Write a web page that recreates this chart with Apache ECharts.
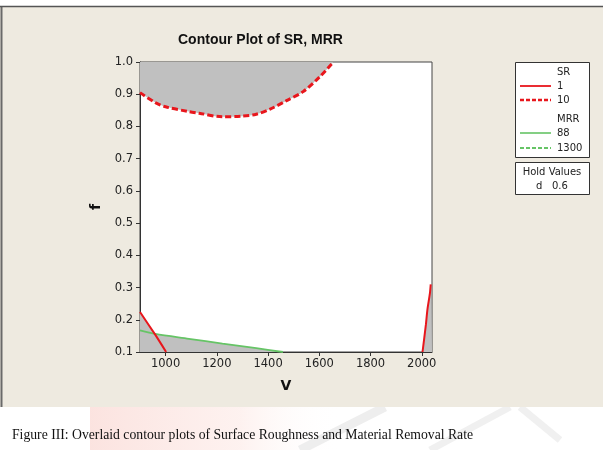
<!DOCTYPE html>
<html>
<head>
<meta charset="utf-8">
<script src="https://cdn.jsdelivr.net/npm/echarts@6/dist/echarts.min.js"></script>
<style>
  html, body { margin: 0; padding: 0; background: #fff; }
  #main { width: 607px; height: 450px; }
</style>
</head>
<body>
<div id="main"></div>
<script>
// SR = 10 contour (dashed, top) - V / f
const vSR10 = [900, 960, 1000, 1091, 1131, 1221, 1300, 1354, 1406, 1472, 1537, 1603, 1655];
const fSR10 = [0.905, 0.874, 0.861, 0.846, 0.841, 0.830, 0.832, 0.838, 0.853, 0.880, 0.908, 0.955, 1.0];

// SR = 1 contour, left piece
const vSR1a = [900, 960, 1002];
const fSR1a = [0.224, 0.153, 0.1];

// SR = 1 contour, right piece
const vSR1b = [2003, 2016, 2022, 2032, 2035];
const fSR1b = [0.1, 0.184, 0.231, 0.283, 0.31];

// MRR = 88 contour
const vMRR88 = [900, 960, 1091, 1222, 1354, 1458];
const fMRR88 = [0.167, 0.156, 0.141, 0.126, 0.112, 0.1];

// axis ticks
const vTicks = [1000, 1200, 1400, 1600, 1800, 2000];
const vMin = 900, vMax = 2040;
const fMin = 0.1, fMax = 1.0;

const RED = '#E8161C';
const GREEN = '#66C466';
const GRAY = '#C0C0C0';
const FONT = 'DejaVu Sans';

function pairs(xs, ys) {
  return xs.map((x, i) => [x, ys[i]]);
}

// linear interpolation, clamped at the ends
function interp(xs, ys, x) {
  if (x <= xs[0]) return ys[0];
  if (x >= xs[xs.length - 1]) return ys[ys.length - 1];
  for (let i = 1; i < xs.length; i++) {
    if (x <= xs[i]) {
      const t = (x - xs[i - 1]) / (xs[i] - xs[i - 1]);
      return ys[i - 1] + t * (ys[i] - ys[i - 1]);
    }
  }
}

// upper envelope of SR=1 (left) and MRR=88 -> infeasible gray region below it
function envelope() {
  const xs = Array.from(new Set(vSR1a.concat(vMRR88))).sort((a, b) => a - b);
  const out = [];
  for (let i = 0; i < xs.length; i++) {
    const x = xs[i];
    const a = interp(vSR1a, fSR1a, x), b = interp(vMRR88, fMRR88, x);
    if (i > 0) {
      const px = xs[i - 1];
      const pa = interp(vSR1a, fSR1a, px), pb = interp(vMRR88, fMRR88, px);
      if ((pa - pb) * (a - b) < 0) {
        const t = (pa - pb) / ((pa - pb) - (a - b));
        out.push([px + t * (x - px), pb + t * (b - pb)]);
      }
    }
    out.push([x, Math.max(a, b)]);
  }
  return out;
}

const chartDom = document.getElementById('main');
const myChart = echarts.init(chartDom, null, { renderer: 'canvas' });

const legendText = (x, y, text) => ({
  type: 'text', x: x, y: y,
  style: { text: text, fill: '#222', font: '10px "' + FONT + '"', verticalAlign: 'middle' }
});
const legendLine = (y, color, dashed, w) => ({
  type: 'line',
  shape: { x1: 520, y1: y, x2: 551, y2: y },
  style: { stroke: color, lineWidth: w, lineDash: dashed ? [4, 2] : null }
});

const option = {
  backgroundColor: '#fff',
  animation: false,
  title: {
    text: 'Contour Plot of SR, MRR',
    left: 173,
    top: 28,
    textStyle: { fontFamily: 'Liberation Sans', fontWeight: 'bold', fontSize: 14, color: '#111' }
  },
  grid: {
    left: 140, top: 62, width: 292, height: 290,
    show: true, backgroundColor: '#fff', borderColor: '#444', borderWidth: 1
  },
  xAxis: {
    type: 'value',
    min: vMin, max: vMax,
    name: 'V', nameLocation: 'middle', nameGap: 27,
    nameTextStyle: { fontFamily: FONT, fontWeight: 'bold', fontSize: 14, color: '#111' },
    axisLine: { lineStyle: { color: '#333' } },
    axisTick: { show: true, length: 4, customValues: vTicks, lineStyle: { color: '#333' } },
    axisLabel: {
      customValues: vTicks, fontFamily: FONT, fontSize: 11.5, color: '#222', margin: 6,
      formatter: v => String(v)
    },
    splitLine: { show: false }
  },
  yAxis: {
    type: 'value',
    min: fMin, max: fMax, interval: 0.1,
    name: 'f', nameLocation: 'middle', nameGap: 37, nameRotate: 90,
    nameTextStyle: { fontFamily: FONT, fontWeight: 'bold', fontSize: 14, color: '#111' },
    axisLine: { show: true, lineStyle: { color: '#333' } },
    axisTick: { show: true, length: 4, lineStyle: { color: '#333' } },
    axisLabel: {
      fontFamily: FONT, fontSize: 11.5, color: '#222', margin: 7,
      formatter: v => v.toFixed(1)
    },
    splitLine: { show: false }
  },
  series: [
    // gray regions
    {
      type: 'line', data: pairs(vSR10, fSR10), smooth: 0.3, showSymbol: false,
      lineStyle: { width: 0 }, areaStyle: { color: GRAY, opacity: 1, origin: 'end' }, z: 1
    },
    {
      type: 'line', data: envelope(), showSymbol: false,
      lineStyle: { width: 0 }, areaStyle: { color: GRAY, opacity: 1, origin: 'start' }, z: 1
    },
    {
      type: 'line', data: pairs(vSR1b, fSR1b).concat([[vMax, fSR1b[fSR1b.length - 1]]]),
      showSymbol: false,
      lineStyle: { width: 0 }, areaStyle: { color: GRAY, opacity: 1, origin: 'start' }, z: 1
    },
    // contours
    {
      name: 'MRR 88', type: 'line', data: pairs(vMRR88, fMRR88), smooth: 0.3, showSymbol: false,
      lineStyle: { color: GREEN, width: 1.8 }, z: 3
    },
    {
      name: 'SR 1', type: 'line', data: pairs(vSR1a, fSR1a), smooth: 0.2, showSymbol: false,
      lineStyle: { color: RED, width: 2 }, z: 4
    },
    {
      name: 'SR 1', type: 'line', data: pairs(vSR1b, fSR1b), smooth: 0.2, showSymbol: false,
      lineStyle: { color: RED, width: 2 }, z: 4
    },
    {
      name: 'SR 10', type: 'line', data: pairs(vSR10, fSR10), smooth: 0.3, showSymbol: false,
      lineStyle: { color: RED, width: 3, type: [6, 3] }, z: 4
    }
  ],
  graphic: [
    // faint watermark below the figure
    {
      type: 'rect', z: -20, shape: { x: 90, y: 407, width: 250, height: 43 },
      style: {
        fill: new echarts.graphic.LinearGradient(0, 0, 1, 0, [
          { offset: 0, color: 'rgba(251,224,220,0.9)' },
          { offset: 0.6, color: 'rgba(253,236,233,0.7)' },
          { offset: 1, color: 'rgba(255,255,255,0)' }
        ])
      }
    },
    { type: 'line', z: -19, shape: { x1: 300, y1: 450, x2: 385, y2: 407 }, style: { stroke: '#EEEEEE', lineWidth: 9 } },
    { type: 'line', z: -19, shape: { x1: 430, y1: 450, x2: 510, y2: 407 }, style: { stroke: '#F0F0F0', lineWidth: 7 } },
    { type: 'line', z: -19, shape: { x1: 520, y1: 407, x2: 560, y2: 440 }, style: { stroke: '#F0F0F0', lineWidth: 7 } },
    // beige panel
    { type: 'rect', z: -10, shape: { x: 0, y: 6, width: 603, height: 401 }, style: { fill: '#EEEAE0' } },
    { type: 'line', z: -9, shape: { x1: 1.5, y1: 6, x2: 1.5, y2: 407 }, style: { stroke: '#6A6A6A', lineWidth: 2 } },
    { type: 'line', z: -9, shape: { x1: 0, y1: 6.5, x2: 603, y2: 6.5 }, style: { stroke: '#555', lineWidth: 1.5 } },
    // legend box
    { type: 'rect', shape: { x: 515.5, y: 62.5, width: 74, height: 95 }, style: { fill: '#fff', stroke: '#333', lineWidth: 1 } },
    legendText(557, 72, 'SR'),
    legendLine(86, RED, false, 1.8),
    legendText(557, 86, '1'),
    legendLine(100, RED, true, 2.5),
    legendText(557, 100, '10'),
    legendText(557, 119, 'MRR'),
    legendLine(133, GREEN, false, 1.6),
    legendText(557, 133, '88'),
    legendLine(148, GREEN, true, 2),
    legendText(557, 148, '1300'),
    // hold values box
    { type: 'rect', shape: { x: 515.5, y: 162.5, width: 74, height: 32 }, style: { fill: '#fff', stroke: '#333', lineWidth: 1 } },
    {
      type: 'text', x: 552, y: 172,
      style: { text: 'Hold Values', fill: '#222', font: '10px "' + FONT + '"', align: 'center', verticalAlign: 'middle' }
    },
    {
      type: 'text', x: 552, y: 186,
      style: { text: 'd   0.6', fill: '#222', font: '10px "' + FONT + '"', align: 'center', verticalAlign: 'middle' }
    },
    // caption
    {
      type: 'text', x: 12, y: 435,
      style: {
        text: 'Figure III: Overlaid contour plots of Surface Roughness and Material Removal Rate',
        fill: '#111', font: '13.7px "Liberation Serif"', verticalAlign: 'middle'
      }
    }
  ]
};

option && myChart.setOption(option);
</script>
</body>
</html>
